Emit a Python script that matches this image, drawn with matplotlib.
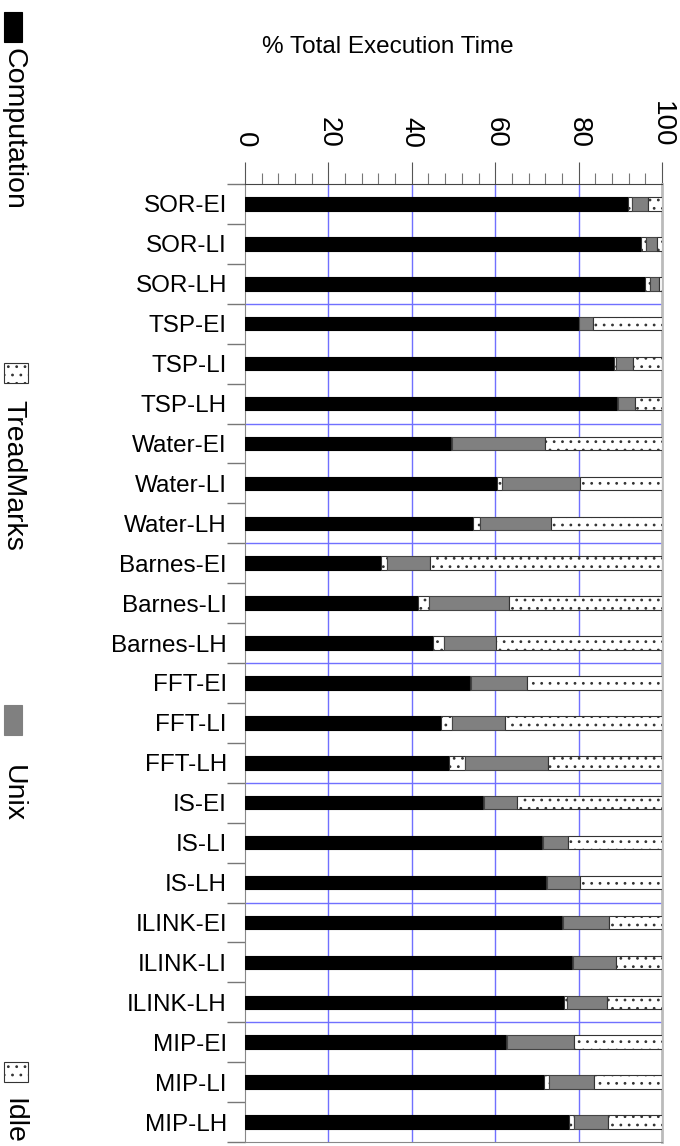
import numpy as np
import matplotlib
matplotlib.use('Agg')
import matplotlib.pyplot as plt
from matplotlib.patches import Rectangle

plt.rcParams['font.family'] = ['Liberation Sans', 'DejaVu Sans']
plt.rcParams['hatch.linewidth'] = 0.8

# data: percent of total execution time
labels = ['SOR-EI', 'SOR-LI', 'SOR-LH', 'TSP-EI', 'TSP-LI', 'TSP-LH',
          'Water-EI', 'Water-LI', 'Water-LH', 'Barnes-EI', 'Barnes-LI', 'Barnes-LH',
          'FFT-EI', 'FFT-LI', 'FFT-LH', 'IS-EI', 'IS-LI', 'IS-LH',
          'ILINK-EI', 'ILINK-LI', 'ILINK-LH', 'MIP-EI', 'MIP-LI', 'MIP-LH']
computation = [91.9, 95.0, 95.9, 80.0, 88.6, 89.1, 49.3, 60.4, 54.7, 32.6, 41.6, 45.0,
               54.0, 47.0, 48.9, 57.1, 71.2, 72.2, 76.0, 78.4, 76.6, 62.5, 71.7, 77.6]
treadmarks = [1.0, 1.2, 1.2, 0.2, 0.4, 0.4, 0.4, 1.2, 1.7, 1.4, 2.6, 2.8,
              0.3, 2.6, 3.9, 0.2, 0.2, 0.2, 0.3, 0.3, 0.6, 0.4, 1.2, 1.2]
unix = [3.8, 2.5, 2.1, 3.3, 4.0, 4.0, 22.2, 18.7, 17.0, 10.4, 19.2, 12.4,
        13.3, 12.8, 19.9, 7.9, 6.0, 7.9, 11.1, 10.3, 9.6, 15.9, 10.9, 8.2]
idle = [3.3, 1.3, 0.8, 16.5, 7.0, 6.5, 28.1, 19.7, 26.6, 55.6, 36.6, 39.8,
        32.4, 37.6, 27.3, 34.8, 22.6, 19.7, 12.6, 11.0, 13.2, 21.2, 16.2, 13.0]
xticks = [0, 20, 40, 60, 80, 100]

W, H = 680, 1146
fig = plt.figure(figsize=(W / 100, H / 100), dpi=100)
ax = fig.add_axes([245 / W, 1 - 1142 / H, (662 - 245) / W, (1142 - 184) / H])

y = np.arange(len(labels))
bh = 0.34
left = np.zeros(len(labels))
series = [(computation, 'black', 'black', None),
          (treadmarks, 'white', '#333333', '..'),
          (unix, '#808080', '#444444', None),
          (idle, 'white', '#333333', '..')]
for vals, fc, ec, hatch in series:
    vals = np.array(vals)
    ax.barh(y, vals, left=left, height=bh, color=fc, edgecolor=ec,
            hatch=hatch, linewidth=0.8, zorder=3)
    left += vals

ax.set_xlim(0, 100)
ax.set_ylim(len(labels) - 0.5, -0.5)

# grid lines
for v in xticks[1:-1]:
    ax.axvline(v, color='#7070ff', lw=1, zorder=1)
for b in np.arange(2.5, len(labels) - 1, 3):
    ax.axhline(b, color='#7070ff', lw=1, zorder=1)

# x axis on top
ax.xaxis.tick_top()
ax.set_xticks(xticks)
ax.set_xticks(np.arange(0, 101, 4), minor=True)
ax.tick_params(axis='x', which='major', length=16, width=0.8, color='#555555',
               pad=10, labelsize=20, labelrotation=-90)
ax.tick_params(axis='x', which='minor', length=8, width=0.8, color='#777777')

# y axis: ticks at category boundaries, labels at centers
ax.set_yticks(np.arange(-0.5, len(labels), 1))
ax.set_yticklabels([])
ax.set_yticks(y, labels, minor=True)
ax.tick_params(axis='y', which='major', length=13, width=1, color='#777777')
ax.tick_params(axis='y', which='minor', length=0, pad=13, labelsize=17.5)

for s in ['left', 'bottom']:
    ax.spines[s].set_color('#888888')
ax.spines['top'].set_color('#444444')
ax.spines['right'].set_color('#bbbbbb')
ax.spines['right'].set_linewidth(2)

fig.text(388 / W, 1 - 47 / H, '% Total Execution Time', fontsize=17.5,
         ha='center', va='center')

# legend down the left edge
legend = [('Computation', 'black', None, 12, 30, 48),
          ('TreadMarks', 'white', '..', 363, 20, 400),
          ('Unix', '#808080', None, 705, 30, 765),
          ('Idle', 'white', '..', 1062, 20, 1098)]
for name, fc, hatch, ytop, hgt, ytext in legend:
    wdt = 18 if hatch is None else 24
    fig.add_artist(Rectangle((4 / W, 1 - (ytop + hgt) / H), wdt / W, hgt / H,
                             transform=fig.transFigure, facecolor=fc,
                             edgecolor='#333333' if hatch else fc,
                             hatch=hatch, linewidth=0.8))
    fig.text(13 / W, 1 - ytext / H, name, rotation=-90, fontsize=20.5,
             ha='center', va='top')

fig.savefig('out.png', dpi=100)
